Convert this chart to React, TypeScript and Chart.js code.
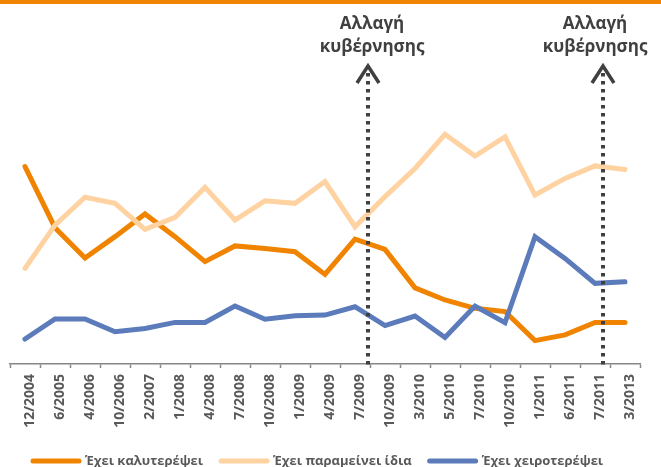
import React, { useEffect, useRef } from "react";
import { Chart, registerables } from "chart.js";

Chart.register(...registerables);

const categories = [
  "12/2004", "6/2005", "4/2006", "10/2006", "2/2007", "1/2008", "4/2008",
  "7/2008", "10/2008", "1/2009", "4/2009", "7/2009", "10/2009", "3/2010",
  "5/2010", "7/2010", "10/2010", "1/2011", "6/2011", "7/2011", "3/2013",
];

const improved = [
  61.7, 42.6, 33.1, 39.8, 46.9, 39.8, 32.0, 36.9, 36.1, 35.1, 28.0,
  39.0, 35.8, 23.8, 20.0, 17.4, 16.4, 7.3, 9.1, 13.0, 13.0,
];
const same = [
  29.9, 43.4, 52.1, 50.2, 42.1, 45.8, 55.2, 45.0, 51.0, 50.2, 57.0,
  42.9, 52.3, 61.1, 71.8, 65.0, 71.0, 52.8, 58.0, 61.9, 60.8,
];
const worse = [
  7.8, 14.1, 14.1, 10.1, 11.1, 13.0, 13.0, 18.1, 14.0, 15.1, 15.3,
  17.9, 12.0, 15.0, 8.3, 18.1, 12.9, 39.8, 33.0, 25.2, 25.7,
];

const seriesLabels = ["Έχει καλυτερέψει", "Έχει παραμείνει ίδια", "Έχει χειροτερέψει"];
const seriesColors = ["#F08300", "#FFD2A2", "#5B7BBB"];

// government changes, as fractional category positions
const govChanges = [11.42, 19.28];
const govChangeLabel = ["Αλλαγή", "κυβέρνησης"];

const FONT = "'Open Sans', 'Noto Sans', sans-serif";

const overlayPlugin = {
  id: "overlay",
  beforeDraw(chart: any) {
    const ctx = chart.ctx;
    ctx.save();
    ctx.fillStyle = "#F08300";
    ctx.fillRect(0, 0, chart.width, 4);
    ctx.restore();
  },
  afterDatasetsDraw(chart: any) {
    const ctx = chart.ctx;
    const x = chart.scales.x;
    const bottom = chart.chartArea.bottom;
    const textOffsets = [4, -8];
    govChanges.forEach((pos, i) => {
      const px = Math.round(x.getPixelForValue(pos));
      ctx.save();
      ctx.strokeStyle = "#404040";
      ctx.lineWidth = 4;
      ctx.setLineDash([3.5, 4.5]);
      ctx.beginPath();
      ctx.moveTo(px, 73);
      ctx.lineTo(px, bottom + 1);
      ctx.stroke();
      ctx.setLineDash([]);
      ctx.lineWidth = 3.5;
      ctx.lineJoin = "miter";
      ctx.beginPath();
      ctx.moveTo(px - 11, 83);
      ctx.lineTo(px, 66);
      ctx.lineTo(px + 11, 83);
      ctx.stroke();
      ctx.fillStyle = "#404040";
      ctx.font = `bold 17px ${FONT}`;
      ctx.textAlign = "center";
      ctx.textBaseline = "middle";
      ctx.fillText(govChangeLabel[0], px + textOffsets[i], 24);
      ctx.fillText(govChangeLabel[1], px + textOffsets[i], 47);
      ctx.restore();
    });
  },
  afterDraw(chart: any) {
    const ctx = chart.ctx;
    ctx.save();
    ctx.font = `bold 13px ${FONT}`;
    const sw = 52;
    const gap = 3;
    const itemGap = 15;
    let cx = 30;
    const y = 461;
    chart.data.datasets.forEach((d: any) => {
      ctx.strokeStyle = d.borderColor;
      ctx.lineWidth = 5;
      ctx.lineCap = "round";
      ctx.beginPath();
      ctx.moveTo(cx + 3, y);
      ctx.lineTo(cx + sw - 3, y);
      ctx.stroke();
      ctx.fillStyle = "#595959";
      ctx.textAlign = "left";
      ctx.textBaseline = "middle";
      ctx.fillText(d.label, cx + sw + gap, y);
      cx += sw + gap + ctx.measureText(d.label).width + itemGap;
    });
    ctx.restore();
  },
};

export default function App() {
  const ref = useRef<HTMLCanvasElement>(null);
  useEffect(() => {
    document.body.style.margin = "0";
    const chart = new Chart(ref.current!, {
      type: "line",
      data: {
        labels: categories,
        datasets: [
          { label: seriesLabels[0], data: improved, borderColor: seriesColors[0], order: 3 },
          { label: seriesLabels[1], data: same, borderColor: seriesColors[1], order: 2 },
          { label: seriesLabels[2], data: worse, borderColor: seriesColors[2], order: 1 },
        ].map((d) => ({
          ...d,
          backgroundColor: d.borderColor,
          borderWidth: 5,
          pointRadius: 0,
          pointHoverRadius: 0,
          tension: 0,
          borderCapStyle: "round" as const,
          borderJoinStyle: "miter" as const,
          fill: false,
        })),
      },
      options: {
        animation: false,
        responsive: false,
        layout: { padding: { left: 10, right: 21, top: 44, bottom: 0 } },
        plugins: { legend: { display: false }, tooltip: { enabled: false } },
        scales: {
          y: { display: false, min: 0, max: 100 },
          x: {
            offset: true,
            afterFit: (axis: any) => {
              axis.height = 103;
            },
            border: { display: true, color: "#868686", width: 1.5 },
            grid: {
              display: true,
              drawOnChartArea: false,
              drawTicks: true,
              tickLength: 4,
              tickColor: "#868686",
              tickWidth: 1.5,
              offset: true,
            },
            ticks: {
              autoSkip: false,
              minRotation: 90,
              maxRotation: 90,
              padding: 6,
              labelOffset: 5,
              color: "#595959",
              font: { family: FONT, size: 14, weight: "bold" },
            },
          },
        },
      },
      plugins: [overlayPlugin],
    });
    return () => chart.destroy();
  }, []);
  return (
    <div style={{ width: 661, height: 467 }}>
      <canvas ref={ref} width={661} height={467} />
    </div>
  );
}
